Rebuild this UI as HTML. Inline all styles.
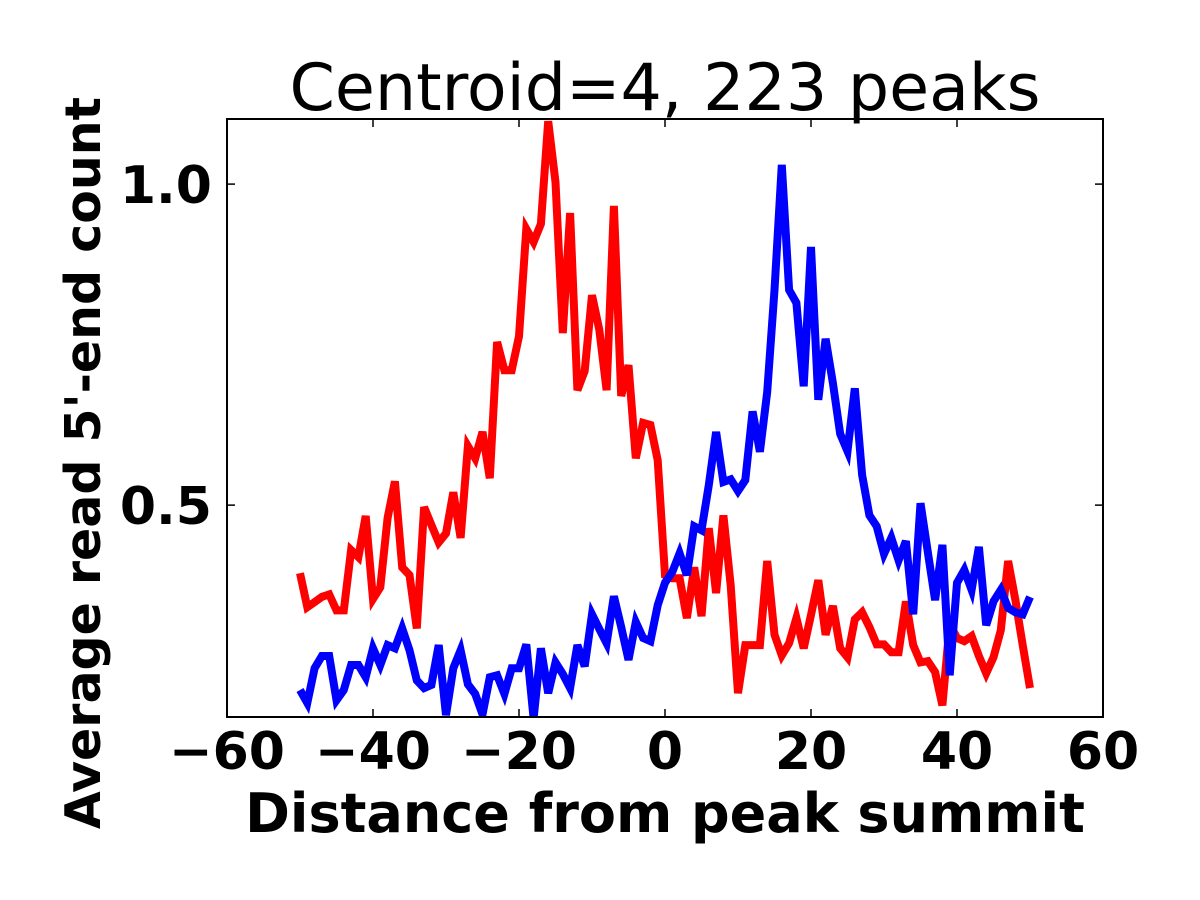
<!DOCTYPE html>
<html><head><meta charset="utf-8"><style>
html,body{margin:0;padding:0;background:#fff;width:1200px;height:900px;overflow:hidden}
svg text{font-family:"DejaVu Sans","Liberation Sans",sans-serif}
</style></head><body>
<svg id="chart" width="1200" height="900" xmlns="http://www.w3.org/2000/svg">
<defs><clipPath id="pc"><rect x="227" y="119" width="876" height="598"/></clipPath></defs>
<rect x="0" y="0" width="1200" height="900" fill="#fff"/>
<text x="665" y="110" font-size="65" text-anchor="middle">Centroid=4, 223 peaks</text>
<g id="series" clip-path="url(#pc)"></g>
<rect x="227" y="119" width="876" height="598" fill="none" stroke="#000" stroke-width="2"/>
<g id="ticks"></g>
<text x="665" y="832" font-size="54" font-weight="bold" text-anchor="middle">Distance from peak summit</text>
<text transform="translate(100,463) rotate(-90)" font-size="49" font-weight="bold" text-anchor="middle">Average read 5'-end count</text>
</svg>
<script>
const xTicks = [-60, -40, -20, 0, 20, 40, 60];
const xTickLabels = ["\u221260", "\u221240", "\u221220", "0", "20", "40", "60"];
const yTicks = [0.5, 1.0];
const yTickLabels = ["0.5", "1.0"];
const xStart = -50;
const redValues = [0.394,0.341,0.349,0.357,0.361,0.336,0.336,0.430,0.419,0.483,0.354,0.372,0.480,0.537,0.403,0.391,0.308,0.497,0.469,0.442,0.456,0.520,0.449,0.592,0.573,0.614,0.542,0.754,0.710,0.710,0.763,0.930,0.910,0.938,1.098,1.003,0.768,0.955,0.679,0.709,0.827,0.773,0.679,0.966,0.670,0.718,0.573,0.628,0.625,0.570,0.391,0.386,0.386,0.324,0.403,0.327,0.464,0.363,0.484,0.375,0.207,0.282,0.282,0.282,0.413,0.298,0.266,0.285,0.324,0.277,0.329,0.383,0.298,0.343,0.277,0.263,0.322,0.333,0.310,0.283,0.283,0.271,0.271,0.350,0.282,0.255,0.257,0.240,0.188,0.315,0.293,0.288,0.296,0.265,0.238,0.263,0.305,0.413,0.352,0.282,0.215];
const blueValues = [0.212,0.192,0.246,0.265,0.265,0.196,0.212,0.251,0.251,0.232,0.277,0.251,0.282,0.277,0.308,0.274,0.227,0.215,0.220,0.282,0.173,0.246,0.274,0.221,0.206,0.174,0.232,0.235,0.206,0.246,0.246,0.283,0.168,0.277,0.207,0.255,0.237,0.215,0.282,0.249,0.330,0.307,0.285,0.358,0.310,0.259,0.318,0.293,0.288,0.344,0.379,0.396,0.425,0.391,0.467,0.461,0.531,0.614,0.536,0.540,0.522,0.539,0.646,0.583,0.676,0.835,1.030,0.835,0.815,0.685,0.902,0.664,0.759,0.690,0.611,0.584,0.682,0.547,0.484,0.467,0.424,0.449,0.414,0.444,0.330,0.503,0.427,0.352,0.438,0.235,0.379,0.399,0.368,0.435,0.313,0.350,0.368,0.340,0.333,0.330,0.357];

const X0=227, X1=1103, Y0=717, Y1=119;
const xMin=-60, xMax=60, yMin=0.17, yMax=1.1014;
function sx(v){return X0+(v-xMin)/(xMax-xMin)*(X1-X0);}
function sy(v){return Y0-(v-yMin)/(yMax-yMin)*(Y0-Y1);}
const NS="http://www.w3.org/2000/svg";
const series=document.getElementById('series');
const ticks=document.getElementById('ticks');
function line(vals,color,name){
  const p=document.createElementNS(NS,'polyline');
  p.setAttribute('points',vals.map((v,i)=>sx(xStart+i).toFixed(1)+','+sy(v).toFixed(1)).join(' '));
  p.setAttribute('fill','none');p.setAttribute('stroke',color);
  p.setAttribute('stroke-width','8');p.setAttribute('stroke-linejoin','miter');
  
  
  series.appendChild(p);
}
line(redValues,'#ff0000','red-series-line');
line(blueValues,'#0000ff','blue-series-line');
function mk(tag,attrs){const e=document.createElementNS(NS,tag);for(const k in attrs)e.setAttribute(k,attrs[k]);ticks.appendChild(e);return e;}
xTicks.forEach((t,i)=>{
  const x=sx(t);
  const a=mk('line',{x1:x,x2:x,y1:Y0,y2:Y0-8,stroke:'#000','stroke-width':1.5});
  
  
  const b=mk('line',{x1:x,x2:x,y1:Y1,y2:Y1+8,stroke:'#000','stroke-width':1.5});
  
  
  const tx=mk('text',{x:x,y:769,'font-size':52,'font-weight':'bold','text-anchor':'middle'});
  tx.textContent=xTickLabels[i];
  
  
});
yTicks.forEach((t,i)=>{
  const y=sy(t);
  const a=mk('line',{x1:X0,x2:X0+8,y1:y,y2:y,stroke:'#000','stroke-width':1.5});
  
  
  const b=mk('line',{x1:X1,x2:X1-8,y1:y,y2:y,stroke:'#000','stroke-width':1.5});
  
  
  const tx=mk('text',{x:212,y:y+19,'font-size':52,'font-weight':'bold','text-anchor':'end'});
  tx.textContent=yTickLabels[i];
  
  
});
</script>
</body></html>
